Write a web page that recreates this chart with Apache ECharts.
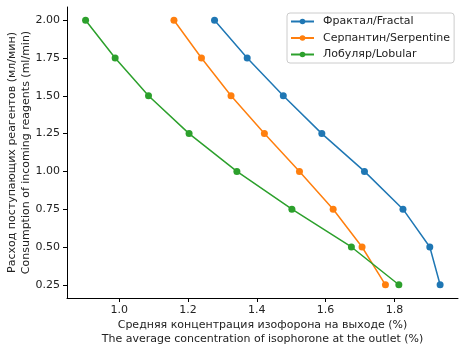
<!DOCTYPE html>
<html>
<head>
<meta charset="utf-8">
<script src="https://cdn.jsdelivr.net/npm/echarts@6/dist/echarts.min.js"></script>
<style>
  html, body { margin: 0; padding: 0; background: #fff; }
  #chart { width: 465px; height: 352px; }
</style>
</head>
<body>
<div id="chart"></div>
<script>
// flow rate levels (ml/min), shared by all three reactors
const flowRates = [2.0, 1.75, 1.5, 1.25, 1.0, 0.75, 0.5, 0.25];

// average isophorone concentration at the outlet (%)
const fractalValues = [1.277, 1.372, 1.477, 1.589, 1.713, 1.825, 1.903, 1.933];
const serpentineValues = [1.159, 1.239, 1.325, 1.422, 1.524, 1.622, 1.706, 1.774];
const lobularValues = [0.902, 0.988, 1.085, 1.203, 1.342, 1.502, 1.675, 1.813];

const seriesNames = ["Фрактал/Fractal", "Серпантин/Serpentine", "Лобуляр/Lobular"];
const seriesColors = ["#1f77b4", "#ff7f0e", "#2ca02c"];

const xTicks = [1.0, 1.2, 1.4, 1.6, 1.8];
const yTicks = [0.25, 0.5, 0.75, 1.0, 1.25, 1.5, 1.75, 2.0];

const FONT = "DejaVu Sans";

function toPairs(values) {
  return values.map((x, i) => [x, flowRates[i]]);
}

function makeSeries(name, values, color) {
  return {
    name,
    type: "line",
    data: toPairs(values),
    color,
    symbol: "circle",
    symbolSize: 7,
    lineStyle: { width: 1.5, color },
    itemStyle: { color },
    emphasis: { disabled: true }
  };
}

const chart = echarts.init(document.getElementById("chart"));

chart.setOption({
  animation: false,
  backgroundColor: "#fff",
  textStyle: { fontFamily: FONT },
  grid: { left: 67, right: 7, top: 7, bottom: 54, containLabel: false, outerBoundsMode: "none" },
  legend: {
    orient: "vertical",
    left: 287,
    top: 13,
    padding: [3, 4, 3, 3],
    itemGap: 5.5,
    itemWidth: 23,
    itemHeight: 7,
    backgroundColor: "#fff",
    borderColor: "#cccccc",
    borderWidth: 1,
    borderRadius: 3,
    textStyle: { fontFamily: FONT, fontSize: 11, color: "#222", padding: [0, 0, 0, 4] },
    data: seriesNames
  },
  xAxis: {
    type: "value",
    min: 0.848,
    max: 1.985,
    name: "Средняя концентрация изофорона на выходе (%)\nThe average concentration of isophorone at the outlet (%)",
    nameLocation: "middle",
    nameGap: 20,
    nameMoveOverlap: false,
    nameTextStyle: { fontFamily: FONT, fontSize: 11, color: "#222", lineHeight: 14 },
    splitLine: { show: false },
    axisLine: { lineStyle: { color: "#000", width: 1 } },
    axisTick: { length: 4, lineStyle: { color: "#000" }, customValues: xTicks },
    axisLabel: {
      fontFamily: FONT, fontSize: 11, color: "#222", margin: 7,
      customValues: xTicks,
      formatter: (v) => v.toFixed(1)
    }
  },
  yAxis: {
    type: "value",
    min: 0.1625,
    max: 2.0875,
    name: "Расход поступающих реагентов (мл/мин)\nConsumption of incoming reagents (ml/min)",
    nameLocation: "middle",
    nameGap: 34,
    nameMoveOverlap: false,
    nameTextStyle: { fontFamily: FONT, fontSize: 11, color: "#222", lineHeight: 14 },
    splitLine: { show: false },
    axisLine: { show: true, lineStyle: { color: "#000", width: 1 } },
    axisTick: { show: true, length: 4, lineStyle: { color: "#000" }, customValues: yTicks },
    axisLabel: {
      fontFamily: FONT, fontSize: 11, color: "#222", margin: 7,
      customValues: yTicks,
      formatter: (v) => v.toFixed(2)
    }
  },
  series: [
    makeSeries(seriesNames[0], fractalValues, seriesColors[0]),
    makeSeries(seriesNames[1], serpentineValues, seriesColors[1]),
    makeSeries(seriesNames[2], lobularValues, seriesColors[2])
  ]
});
</script>
</body>
</html>
